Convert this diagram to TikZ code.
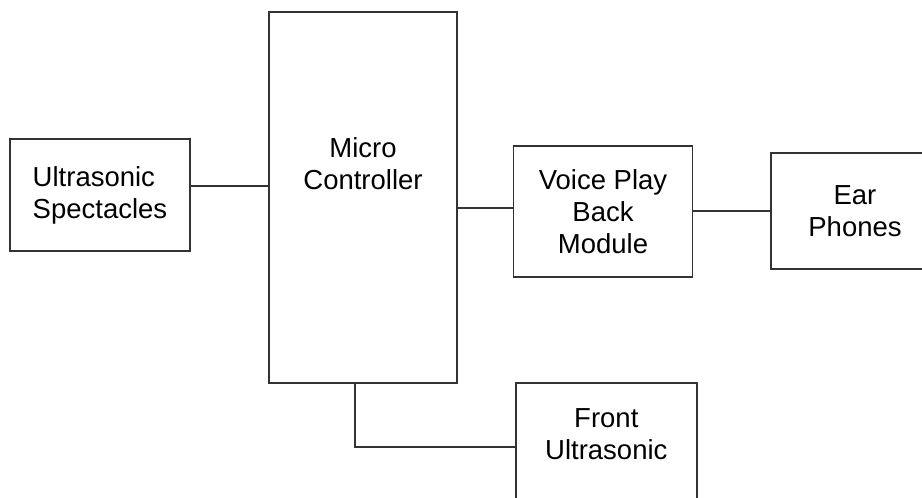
\documentclass[tikz,border=0pt]{standalone}
\usepackage{fontspec}
\setmainfont{Liberation Sans}
\usepackage{tikz}
\usetikzlibrary{positioning,calc}

\begin{document}
\begin{tikzpicture}[
    x=1pt, y=-1pt,
    node distance=20pt,
    box/.style={draw=black!80, line width=1.7pt, inner sep=0pt},
    txt/.style={align=center, inner sep=0pt, font=\fontsize{27.5pt}{32pt}\selectfont},
    wire/.style={draw=black!80, line width=1.7pt}
]
\useasboundingbox (0,0) rectangle (922,498);
\clip (0,0) rectangle (922,498);
\node[box, txt, align=left, minimum width=180pt, minimum height=112pt] (spec) at (100,195) {Ultrasonic\\Spectacles};
\node[box, minimum width=187.5pt, minimum height=371.5pt] (mc) at (363,197.5) {};
\node[txt, below=126pt of mc.north] (mclabel) {Micro\\Controller};
\node[box, txt, minimum width=179pt, minimum height=131pt] (vpb) at (603,211.3) {Voice Play\\Back\\Module};
\node[box, txt, minimum width=168pt, minimum height=116.6pt] (ear) at (855,211) {Ear\\Phones};
\node[box, minimum width=181.3pt, minimum height=127.4pt] (front) at (606.3,447) {};
\node[txt, below=25.7pt of front.north] (frontlabel) {Front\\Ultrasonic};
\coordinate (specout) at ([yshift=9.3pt]spec.east);
\coordinate (vpbin) at ([yshift=3pt]vpb.west);
\coordinate (mcdown) at ([xshift=-8pt]mc.south);
\draw[wire] (specout) -- (specout -| mc.west);
\draw[wire] (vpbin -| mc.east) -- (vpbin);
\draw[wire] (vpb.east) -- (vpb.east -| ear.west);
\draw[wire] (mcdown) |- (front.west);
\end{tikzpicture}
\end{document}
